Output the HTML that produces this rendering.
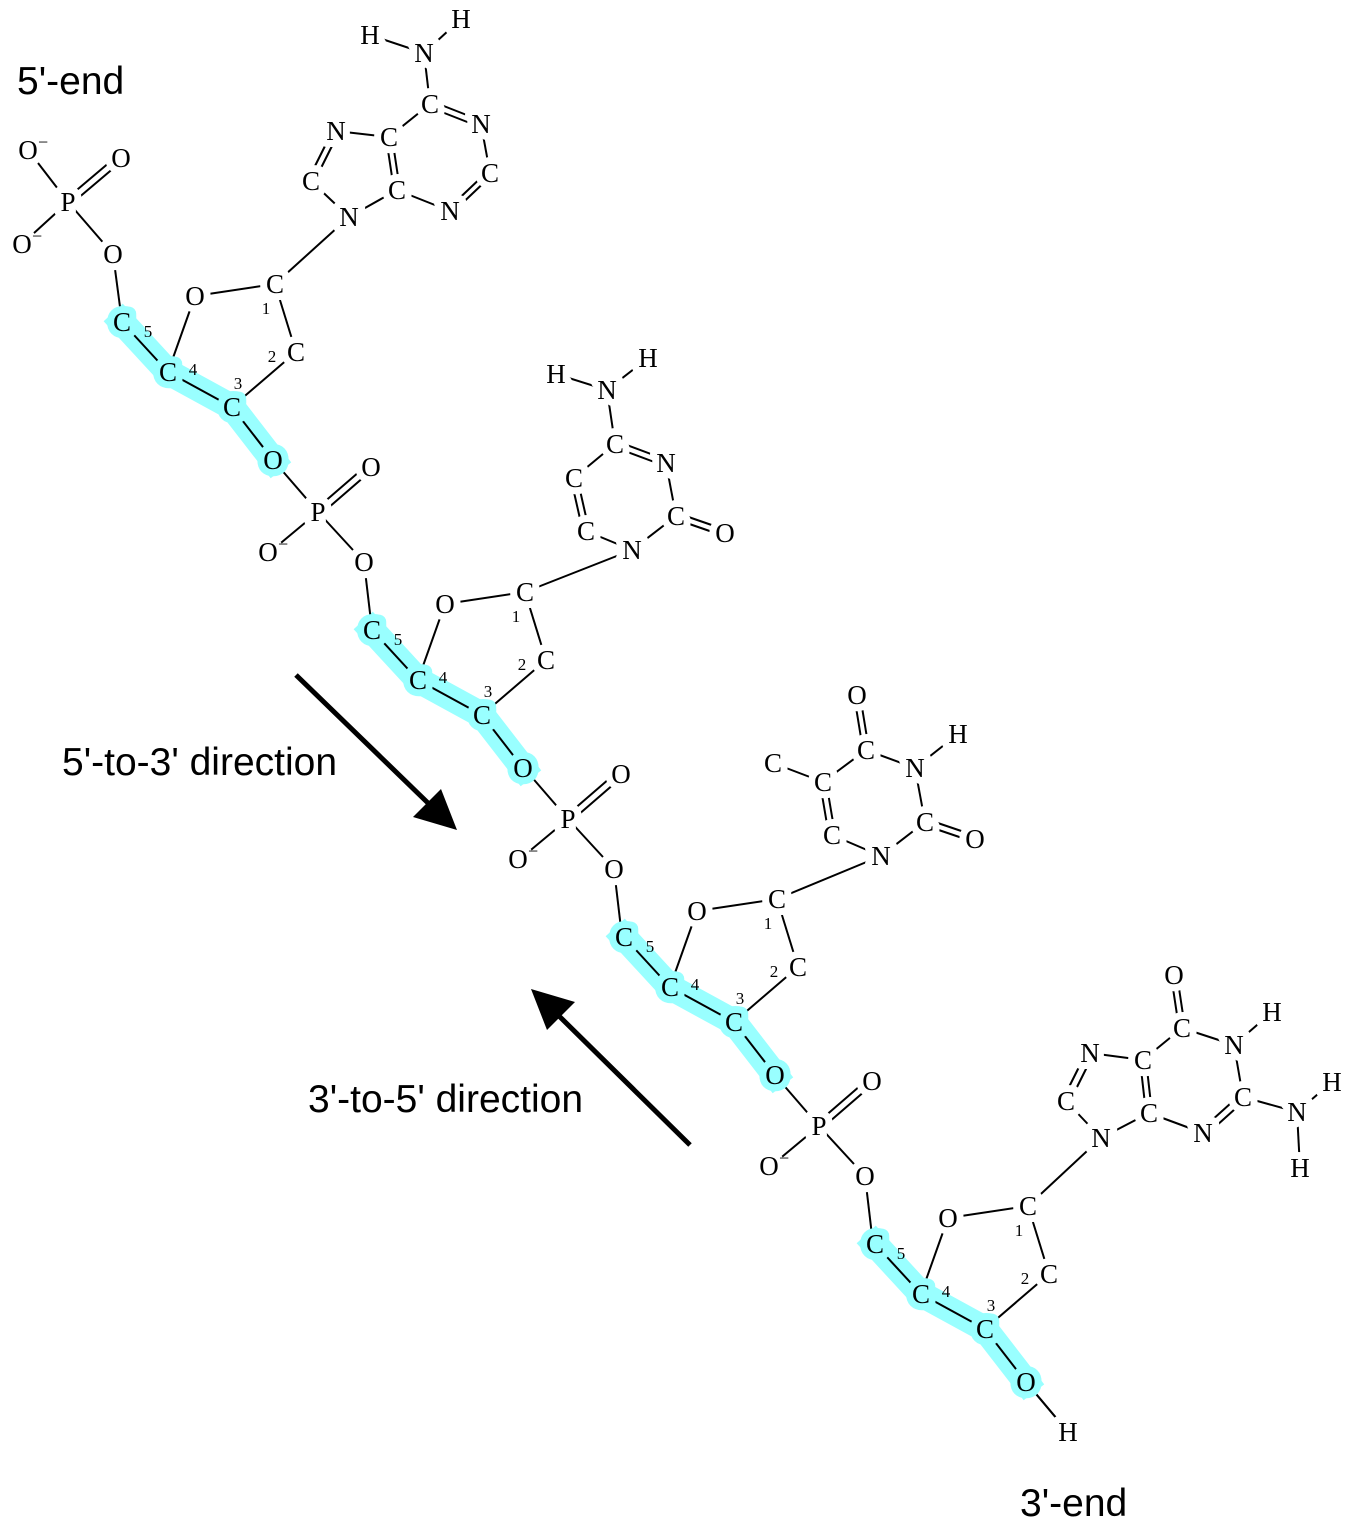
<!DOCTYPE html>
<html><head><meta charset="utf-8"><style>
html,body{margin:0;padding:0;background:#fff;}
svg{display:block;}
.b line{stroke:#000;stroke-width:2;}
text.a{font-family:"Liberation Serif",serif;font-size:27px;text-anchor:middle;}
.halo text.a{fill:#fff;stroke:#fff;stroke-width:14px;stroke-linejoin:round;}
.halo text.h{fill:#99ffff;stroke:#99ffff;}
.fg text{fill:#000;stroke:none;}
.n{font-family:"Liberation Serif",serif;font-size:17px;text-anchor:middle;}
.s{font-family:"Liberation Sans",sans-serif;font-size:39px;fill:#000;}
.m{font-family:"Liberation Serif",serif;font-size:18px;}
</style></head><body>
<svg width="1350" height="1522" viewBox="0 0 1350 1522" xmlns="http://www.w3.org/2000/svg">

<g fill="none" stroke="#99ffff" stroke-width="26" stroke-linejoin="round" stroke-linecap="square">
<polyline points="122,322 168,372 232,407 273,460"/>
<polyline points="372,630 418,680 482,715 523,768"/>
<polyline points="624,937 670,987 734,1022 775,1075"/>
<polyline points="875,1244 921,1294 985,1329 1026,1382"/>
</g>

<g class="b">
<line x1="122" y1="322" x2="168" y2="372"/><line x1="168" y1="372" x2="232" y2="407"/><line x1="232" y1="407" x2="273" y2="460"/>
<line x1="168" y1="372" x2="195" y2="296"/><line x1="195" y1="296" x2="275" y2="284"/><line x1="275" y1="284" x2="296" y2="352"/><line x1="296" y1="352" x2="232" y2="407"/>
</g>
<g class="b" transform="translate(250,308)">
<line x1="122" y1="322" x2="168" y2="372"/><line x1="168" y1="372" x2="232" y2="407"/><line x1="232" y1="407" x2="273" y2="460"/>
<line x1="168" y1="372" x2="195" y2="296"/><line x1="195" y1="296" x2="275" y2="284"/><line x1="275" y1="284" x2="296" y2="352"/><line x1="296" y1="352" x2="232" y2="407"/>
</g>
<g class="b" transform="translate(502,615)">
<line x1="122" y1="322" x2="168" y2="372"/><line x1="168" y1="372" x2="232" y2="407"/><line x1="232" y1="407" x2="273" y2="460"/>
<line x1="168" y1="372" x2="195" y2="296"/><line x1="195" y1="296" x2="275" y2="284"/><line x1="275" y1="284" x2="296" y2="352"/><line x1="296" y1="352" x2="232" y2="407"/>
</g>
<g class="b" transform="translate(753,922)">
<line x1="122" y1="322" x2="168" y2="372"/><line x1="168" y1="372" x2="232" y2="407"/><line x1="232" y1="407" x2="273" y2="460"/>
<line x1="168" y1="372" x2="195" y2="296"/><line x1="195" y1="296" x2="275" y2="284"/><line x1="275" y1="284" x2="296" y2="352"/><line x1="296" y1="352" x2="232" y2="407"/>
<line x1="273" y1="460" x2="315" y2="510"/>
</g>

<g class="b">
<line x1="68" y1="202" x2="28" y2="150"/><line x1="68" y1="202" x2="22" y2="244"/><line x1="68" y1="202" x2="113" y2="254"/><line x1="113" y1="254" x2="122" y2="322"/>
<line x1="70" y1="205" x2="122" y2="161"/><line x1="65" y1="200" x2="117" y2="156"/>
</g>
<g class="b">
<line x1="273" y1="460" x2="318" y2="512"/><line x1="318" y1="512" x2="270" y2="552"/><line x1="318" y1="512" x2="364" y2="562"/><line x1="364" y1="562" x2="372" y2="630"/>
<line x1="320" y1="515" x2="372" y2="470"/><line x1="315" y1="510" x2="367" y2="465"/>
</g>
<g class="b" transform="translate(250,307)">
<line x1="273" y1="460" x2="318" y2="512"/><line x1="318" y1="512" x2="270" y2="552"/><line x1="318" y1="512" x2="364" y2="562"/><line x1="364" y1="562" x2="372" y2="630"/>
<line x1="320" y1="515" x2="372" y2="470"/><line x1="315" y1="510" x2="367" y2="465"/>
</g>
<g class="b" transform="translate(501,614)">
<line x1="273" y1="460" x2="318" y2="512"/><line x1="318" y1="512" x2="270" y2="552"/><line x1="318" y1="512" x2="364" y2="562"/><line x1="364" y1="562" x2="372" y2="630"/>
<line x1="320" y1="515" x2="372" y2="470"/><line x1="315" y1="510" x2="367" y2="465"/>
</g>
<g class="b"><line x1="1026" y1="1382" x2="1068" y2="1432"/></g>

<g class="b">
<line x1="275" y1="284" x2="349" y2="217"/>
<line x1="525" y1="592" x2="632" y2="550"/>
<line x1="777" y1="899" x2="881" y2="856"/>
<line x1="1028" y1="1206" x2="1101" y2="1138"/>
</g>

<g class="b">
<line x1="349" y1="217" x2="311" y2="181"/>
<line x1="314" y1="182" x2="339" y2="132"/><line x1="308" y1="180" x2="333" y2="130"/>
<line x1="336" y1="131" x2="389" y2="137"/>
<line x1="392" y1="137" x2="400" y2="190"/><line x1="386" y1="137" x2="394" y2="190"/>
<line x1="397" y1="190" x2="349" y2="217"/><line x1="397" y1="190" x2="450" y2="211"/>
<line x1="452" y1="213" x2="492" y2="175"/><line x1="448" y1="209" x2="488" y2="171"/>
<line x1="490" y1="173" x2="481" y2="124"/>
<line x1="482" y1="121" x2="431" y2="101"/><line x1="480" y1="127" x2="429" y2="107"/>
<line x1="430" y1="104" x2="389" y2="137"/><line x1="430" y1="104" x2="424" y2="53"/>
<line x1="424" y1="53" x2="370" y2="35"/><line x1="424" y1="53" x2="461" y2="19"/>
</g>
<g class="b">
<line x1="632" y1="550" x2="676" y2="516"/>
<line x1="675" y1="519" x2="724" y2="536"/><line x1="677" y1="513" x2="726" y2="530"/>
<line x1="676" y1="516" x2="666" y2="463"/>
<line x1="667" y1="460" x2="616" y2="441"/><line x1="665" y1="466" x2="614" y2="447"/>
<line x1="615" y1="444" x2="574" y2="478"/>
<line x1="577" y1="477" x2="589" y2="530"/><line x1="571" y1="479" x2="583" y2="532"/>
<line x1="586" y1="531" x2="632" y2="550"/>
<line x1="615" y1="444" x2="607" y2="390"/><line x1="607" y1="390" x2="556" y2="374"/><line x1="607" y1="390" x2="648" y2="358"/>
</g>
<g class="b">
<line x1="881" y1="856" x2="925" y2="822"/>
<line x1="924" y1="825" x2="974" y2="842"/><line x1="926" y1="819" x2="976" y2="836"/>
<line x1="925" y1="822" x2="915" y2="768"/><line x1="915" y1="768" x2="958" y2="734"/>
<line x1="915" y1="768" x2="866" y2="750"/>
<line x1="869" y1="750" x2="860" y2="695"/><line x1="863" y1="750" x2="854" y2="695"/>
<line x1="866" y1="750" x2="823" y2="782"/><line x1="823" y1="782" x2="773" y2="763"/>
<line x1="826" y1="781" x2="835" y2="834"/><line x1="820" y1="783" x2="829" y2="836"/>
<line x1="832" y1="835" x2="881" y2="856"/>
</g>
<g class="b">
<line x1="1101" y1="1138" x2="1066" y2="1101"/>
<line x1="1069" y1="1103" x2="1093" y2="1055"/><line x1="1063" y1="1099" x2="1087" y2="1051"/>
<line x1="1090" y1="1053" x2="1143" y2="1060"/>
<line x1="1146" y1="1060" x2="1152" y2="1113"/><line x1="1140" y1="1060" x2="1146" y2="1113"/>
<line x1="1149" y1="1113" x2="1101" y2="1138"/><line x1="1149" y1="1113" x2="1203" y2="1133"/>
<line x1="1205" y1="1136" x2="1245" y2="1100"/><line x1="1201" y1="1130" x2="1241" y2="1094"/>
<line x1="1243" y1="1097" x2="1234" y2="1045"/><line x1="1234" y1="1045" x2="1272" y2="1012"/>
<line x1="1234" y1="1045" x2="1182" y2="1028"/>
<line x1="1185" y1="1028" x2="1177" y2="975"/><line x1="1179" y1="1028" x2="1171" y2="975"/>
<line x1="1182" y1="1028" x2="1143" y2="1060"/>
<line x1="1243" y1="1097" x2="1297" y2="1112"/><line x1="1297" y1="1112" x2="1332" y2="1082"/><line x1="1297" y1="1112" x2="1300" y2="1168"/>
</g>

<g class="halo">
<g>
<text class="a h" x="122" y="331">C</text><text class="a h" x="168" y="381">C</text><text class="a h" x="232" y="416">C</text><text class="a h" x="273" y="469">O</text>
<text class="a" x="195" y="305">O</text><text class="a" x="275" y="293">C</text><text class="a" x="296" y="361">C</text>
</g>
<g transform="translate(250,308)">
<text class="a h" x="122" y="331">C</text><text class="a h" x="168" y="381">C</text><text class="a h" x="232" y="416">C</text><text class="a h" x="273" y="469">O</text>
<text class="a" x="195" y="305">O</text><text class="a" x="275" y="293">C</text><text class="a" x="296" y="361">C</text>
</g>
<g transform="translate(502,615)">
<text class="a h" x="122" y="331">C</text><text class="a h" x="168" y="381">C</text><text class="a h" x="232" y="416">C</text><text class="a h" x="273" y="469">O</text>
<text class="a" x="195" y="305">O</text><text class="a" x="275" y="293">C</text><text class="a" x="296" y="361">C</text>
</g>
<g transform="translate(753,922)">
<text class="a h" x="122" y="331">C</text><text class="a h" x="168" y="381">C</text><text class="a h" x="232" y="416">C</text><text class="a h" x="273" y="469">O</text>
<text class="a" x="195" y="305">O</text><text class="a" x="275" y="293">C</text><text class="a" x="296" y="361">C</text>
</g>
<text class="a" x="68" y="211">P</text><text class="a" x="28" y="159">O</text><text class="a" x="121" y="167">O</text>
<text class="a" x="22" y="253">O</text><text class="a" x="113" y="263">O</text>
<g><text class="a" x="318" y="521">P</text><text class="a" x="371" y="476">O</text><text class="a" x="268" y="561">O</text><text class="a" x="364" y="571">O</text></g>
<g transform="translate(250,307)"><text class="a" x="318" y="521">P</text><text class="a" x="371" y="476">O</text><text class="a" x="268" y="561">O</text><text class="a" x="364" y="571">O</text></g>
<g transform="translate(501,614)"><text class="a" x="318" y="521">P</text><text class="a" x="371" y="476">O</text><text class="a" x="268" y="561">O</text><text class="a" x="364" y="571">O</text></g>
<text class="a" x="1068" y="1441">H</text>
<text class="a" x="349" y="226">N</text><text class="a" x="311" y="190">C</text><text class="a" x="336" y="140">N</text><text class="a" x="389" y="146">C</text><text class="a" x="397" y="199">C</text>
<text class="a" x="450" y="220">N</text><text class="a" x="490" y="182">C</text><text class="a" x="481" y="133">N</text><text class="a" x="430" y="113">C</text><text class="a" x="424" y="62">N</text>
<text class="a" x="370" y="44">H</text><text class="a" x="461" y="28">H</text>
<text class="a" x="632" y="559">N</text><text class="a" x="676" y="525">C</text><text class="a" x="725" y="542">O</text><text class="a" x="666" y="472">N</text><text class="a" x="615" y="453">C</text>
<text class="a" x="574" y="487">C</text><text class="a" x="586" y="540">C</text><text class="a" x="607" y="399">N</text><text class="a" x="556" y="383">H</text><text class="a" x="648" y="367">H</text>
<text class="a" x="881" y="865">N</text><text class="a" x="925" y="831">C</text><text class="a" x="975" y="848">O</text><text class="a" x="915" y="777">N</text><text class="a" x="958" y="743">H</text>
<text class="a" x="866" y="759">C</text><text class="a" x="857" y="704">O</text><text class="a" x="823" y="791">C</text><text class="a" x="773" y="772">C</text><text class="a" x="832" y="844">C</text>
<text class="a" x="1101" y="1147">N</text><text class="a" x="1066" y="1110">C</text><text class="a" x="1090" y="1062">N</text><text class="a" x="1143" y="1069">C</text><text class="a" x="1149" y="1122">C</text>
<text class="a" x="1203" y="1142">N</text><text class="a" x="1243" y="1106">C</text><text class="a" x="1234" y="1054">N</text><text class="a" x="1272" y="1021">H</text><text class="a" x="1182" y="1037">C</text>
<text class="a" x="1174" y="984">O</text><text class="a" x="1297" y="1121">N</text><text class="a" x="1332" y="1091">H</text><text class="a" x="1300" y="1177">H</text>
</g>

<g class="fg">
<g>
<text class="a" x="122" y="331">C</text><text class="a" x="168" y="381">C</text><text class="a" x="232" y="416">C</text><text class="a" x="273" y="469">O</text>
<text class="a" x="195" y="305">O</text><text class="a" x="275" y="293">C</text><text class="a" x="296" y="361">C</text>
<text class="n" x="148" y="337">5</text><text class="n" x="193" y="375">4</text><text class="n" x="238" y="389">3</text><text class="n" x="266" y="314">1</text><text class="n" x="272" y="362">2</text>
</g>
<g transform="translate(250,308)">
<text class="a" x="122" y="331">C</text><text class="a" x="168" y="381">C</text><text class="a" x="232" y="416">C</text><text class="a" x="273" y="469">O</text>
<text class="a" x="195" y="305">O</text><text class="a" x="275" y="293">C</text><text class="a" x="296" y="361">C</text>
<text class="n" x="148" y="337">5</text><text class="n" x="193" y="375">4</text><text class="n" x="238" y="389">3</text><text class="n" x="266" y="314">1</text><text class="n" x="272" y="362">2</text>
</g>
<g transform="translate(502,615)">
<text class="a" x="122" y="331">C</text><text class="a" x="168" y="381">C</text><text class="a" x="232" y="416">C</text><text class="a" x="273" y="469">O</text>
<text class="a" x="195" y="305">O</text><text class="a" x="275" y="293">C</text><text class="a" x="296" y="361">C</text>
<text class="n" x="148" y="337">5</text><text class="n" x="193" y="375">4</text><text class="n" x="238" y="389">3</text><text class="n" x="266" y="314">1</text><text class="n" x="272" y="362">2</text>
</g>
<g transform="translate(753,922)">
<text class="a" x="122" y="331">C</text><text class="a" x="168" y="381">C</text><text class="a" x="232" y="416">C</text><text class="a" x="273" y="469">O</text>
<text class="a" x="195" y="305">O</text><text class="a" x="275" y="293">C</text><text class="a" x="296" y="361">C</text>
<text class="n" x="148" y="337">5</text><text class="n" x="193" y="375">4</text><text class="n" x="238" y="389">3</text><text class="n" x="266" y="314">1</text><text class="n" x="272" y="362">2</text>
</g>
<text class="a" x="68" y="211">P</text><text class="a" x="28" y="159">O</text><text class="m" x="38" y="148">−</text><text class="a" x="121" y="167">O</text>
<text class="a" x="22" y="253">O</text><text class="m" x="32" y="242">−</text><text class="a" x="113" y="263">O</text>
<g><text class="a" x="318" y="521">P</text><text class="a" x="371" y="476">O</text><text class="a" x="268" y="561">O</text><text class="m" x="278" y="550">−</text><text class="a" x="364" y="571">O</text></g>
<g transform="translate(250,307)"><text class="a" x="318" y="521">P</text><text class="a" x="371" y="476">O</text><text class="a" x="268" y="561">O</text><text class="m" x="278" y="550">−</text><text class="a" x="364" y="571">O</text></g>
<g transform="translate(501,614)"><text class="a" x="318" y="521">P</text><text class="a" x="371" y="476">O</text><text class="a" x="268" y="561">O</text><text class="m" x="278" y="550">−</text><text class="a" x="364" y="571">O</text></g>
<text class="a" x="1068" y="1441">H</text>
<text class="a" x="349" y="226">N</text><text class="a" x="311" y="190">C</text><text class="a" x="336" y="140">N</text><text class="a" x="389" y="146">C</text><text class="a" x="397" y="199">C</text>
<text class="a" x="450" y="220">N</text><text class="a" x="490" y="182">C</text><text class="a" x="481" y="133">N</text><text class="a" x="430" y="113">C</text><text class="a" x="424" y="62">N</text>
<text class="a" x="370" y="44">H</text><text class="a" x="461" y="28">H</text>
<text class="a" x="632" y="559">N</text><text class="a" x="676" y="525">C</text><text class="a" x="725" y="542">O</text><text class="a" x="666" y="472">N</text><text class="a" x="615" y="453">C</text>
<text class="a" x="574" y="487">C</text><text class="a" x="586" y="540">C</text><text class="a" x="607" y="399">N</text><text class="a" x="556" y="383">H</text><text class="a" x="648" y="367">H</text>
<text class="a" x="881" y="865">N</text><text class="a" x="925" y="831">C</text><text class="a" x="975" y="848">O</text><text class="a" x="915" y="777">N</text><text class="a" x="958" y="743">H</text>
<text class="a" x="866" y="759">C</text><text class="a" x="857" y="704">O</text><text class="a" x="823" y="791">C</text><text class="a" x="773" y="772">C</text><text class="a" x="832" y="844">C</text>
<text class="a" x="1101" y="1147">N</text><text class="a" x="1066" y="1110">C</text><text class="a" x="1090" y="1062">N</text><text class="a" x="1143" y="1069">C</text><text class="a" x="1149" y="1122">C</text>
<text class="a" x="1203" y="1142">N</text><text class="a" x="1243" y="1106">C</text><text class="a" x="1234" y="1054">N</text><text class="a" x="1272" y="1021">H</text><text class="a" x="1182" y="1037">C</text>
<text class="a" x="1174" y="984">O</text><text class="a" x="1297" y="1121">N</text><text class="a" x="1332" y="1091">H</text><text class="a" x="1300" y="1177">H</text>
</g>

<line x1="296" y1="675" x2="428" y2="803" stroke="#000" stroke-width="5"/>
<polygon points="457,830 413,817 441,789" fill="#000"/>
<line x1="690" y1="1145" x2="558" y2="1015" stroke="#000" stroke-width="5"/>
<polygon points="531,989 575,1002 547,1030" fill="#000"/>

<text class="s" x="17" y="94">5'-end</text>
<text class="s" x="62" y="775">5'-to-3' direction</text>
<text class="s" x="308" y="1112">3'-to-5' direction</text>
<text class="s" x="1020" y="1516">3'-end</text>
</svg>
</body></html>
